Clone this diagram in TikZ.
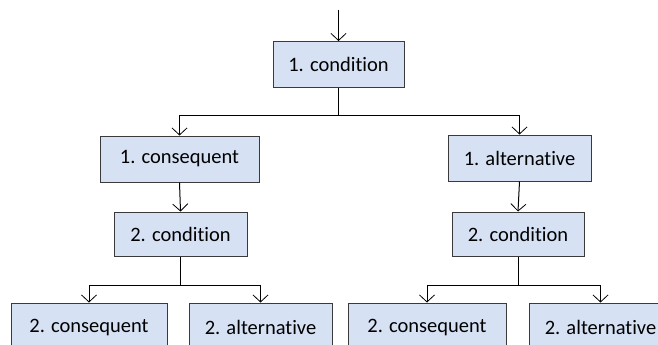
\documentclass[tikz,border=0pt]{standalone}
\usepackage{fontspec}
\setmainfont[Ligatures=NoCommon]{Carlito}
\usetikzlibrary{arrows.meta}
\definecolor{boxblue}{HTML}{D6E2F4}
\definecolor{edge}{HTML}{3A3A3A}
\tikzset{
  box/.style={draw=edge, fill=boxblue, line width=1pt, inner sep=0pt, font=\fontsize{20.5}{22}\selectfont, text=black},
  arr/.style={line width=1pt, -{Straight Barb[length=7pt,width=15pt,line width=0.8pt]}}
}
\begin{document}
\begin{tikzpicture}[x=1pt,y=-1pt]
\useasboundingbox (0,0) rectangle (658,345);
\clip (0,0) rectangle (658,345);
\node[box, minimum width=131pt, minimum height=46pt] (c1) at (338.5,64.5) {1. condition};
\node[box, minimum width=159pt, minimum height=46pt] (cons1) at (179.5,159) {1. consequent};
\node[box, minimum width=143pt, minimum height=46pt] (alt1) at (519.5,158) {1. alternative};
\node[box, minimum width=133pt, minimum height=44pt] (cond2L) at (180.5,234) {2. condition};
\node[box, minimum width=132pt, minimum height=44pt] (cond2R) at (518,234) {2. condition};
\node[box, minimum width=156pt, minimum height=48pt] (cons2L) at (89,327) {2. consequent};
\node[box, minimum width=143pt, minimum height=48pt] (alt2L) at (260.5,327) {2. alternative};
\node[box, minimum width=158pt, minimum height=48pt] (cons2R) at (427,327) {2. consequent};
\node[box, minimum width=143pt, minimum height=48pt] (alt2R) at (600.5,327) {2. alternative};
\coordinate (top) at (338.5,10);
\draw[arr] (top) -- (c1.north);
\draw[arr] (c1.south) -- (c1.south |- 0,115) -| (cons1.north);
\draw[arr] (c1.south |- 0,115) -| (alt1.north);
\draw[arr] (cons1.south) -- (cond2L.north);
\draw[arr] (alt1.south) -- (cond2R.north);
\draw[arr] (cond2L.south) -- (cond2L.south |- 0,285) -| (cons2L.north);
\draw[arr] (cond2L.south |- 0,285) -| (alt2L.north);
\draw[arr] (cond2R.south) -- (cond2R.south |- 0,285) -| (cons2R.north);
\draw[arr] (cond2R.south |- 0,285) -| (alt2R.north);
\end{tikzpicture}
\end{document}
